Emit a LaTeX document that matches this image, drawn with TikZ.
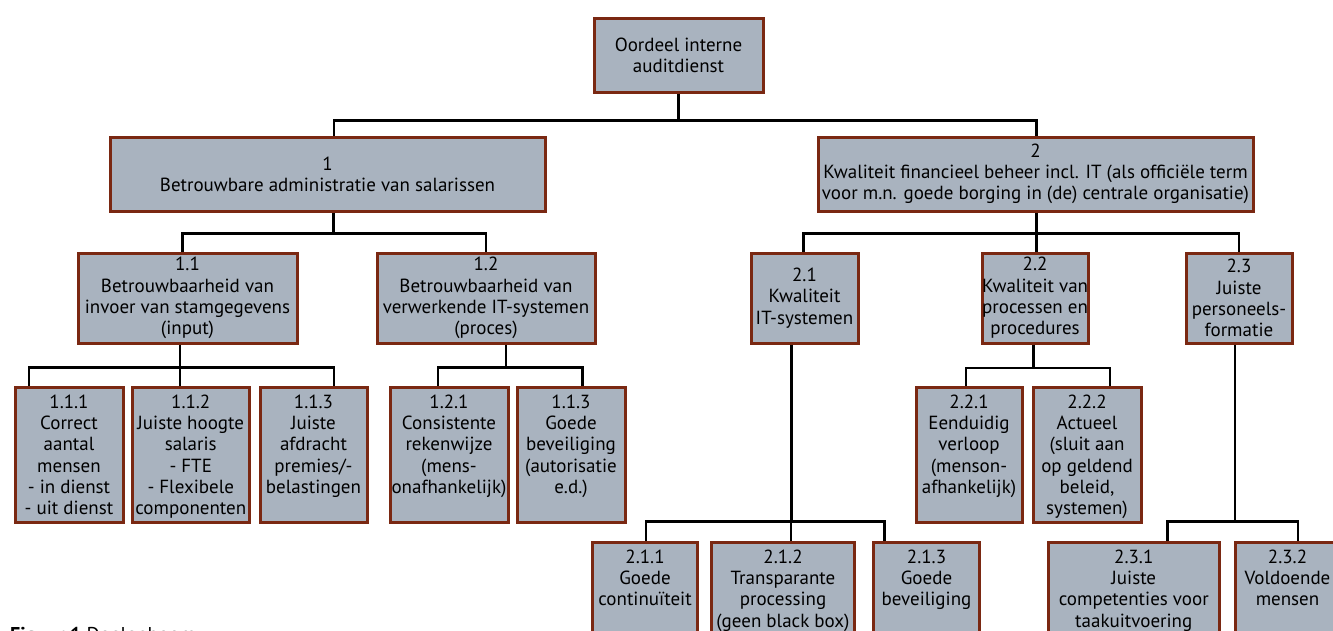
\documentclass[tikz,border=0pt]{standalone}
\usepackage{fontspec}
\setmainfont{PT Sans}
\definecolor{boxfill}{RGB}{169,179,191}
\definecolor{boxline}{RGB}{122,40,18}
\tikzset{
  box/.style={draw=boxline, fill=boxfill, line width=3pt, anchor=north west,
    inner sep=0pt, align=center, font=\fontsize{19}{21.3}\selectfont},
  lvlA/.style={box, minimum height=74pt},
  lvlB/.style={box, minimum height=90pt},
  lvlC/.style={box, minimum height=135pt},
  lvlD/.style={box, minimum height=120pt},
  toptext/.style={anchor=north, inner sep=0pt, align=center, yshift=-9pt,
    font=\fontsize{19}{21.3}\selectfont},
  conn/.style={draw=black, line width=2.5pt},
}
\begin{document}
\begin{tikzpicture}[x=1pt, y=-1pt]
\useasboundingbox (0,0) rectangle (1333,630);
\clip (0,0) rectangle (1333,630);

% level 0 and 1
\node[lvlA, minimum width=169pt] (top) at (592.5,16.5) {Oordeel interne\\auditdienst};
\node[lvlA, minimum width=435pt] (b1) at (108.5,135.5) {1\\Betrouwbare administratie van salarissen};
\node[lvlA, minimum width=435pt] (b2) at (816.5,135.5) {2\\Kwaliteit financieel beheer incl. IT (als officiële term\\voor m.n. goede borging in (de) centrale organisatie)};

% level 2
\node[lvlB, minimum width=219pt] (b11) at (76.5,251.5) {1.1\\Betrouwbaarheid van\\invoer van stamgegevens\\(input)};
\node[lvlB, minimum width=218pt] (b12) at (375.5,251.5) {1.2\\Betrouwbaarheid van\\verwerkende IT-systemen\\(proces)};
\node[lvlB, minimum width=107pt] (b21) at (749.5,251.5) {2.1\\Kwaliteit\\IT-systemen};
\node[lvlB, minimum width=106pt] (b22) at (980.5,251.5) {2.2\\Kwaliteit van\\processen en\\procedures};
\node[lvlB, minimum width=106pt] (b23) at (1184.5,251.5) {2.3\\Juiste\\personeels-\\formatie};

% level 3
\node[lvlC, minimum width=108pt] (b111) at (13.5,385.5) {};
\node[toptext] (t111) at (b111.north) {1.1.1\\Correct\\aantal\\mensen\\- in dienst\\- uit dienst};
\node[lvlC, minimum width=116.5pt] (b112) at (131,385.5) {};
\node[toptext] (t112) at (b112.north) {1.1.2\\Juiste hoogte\\salaris\\- FTE\\- Flexibele\\componenten};
\node[lvlC, minimum width=107pt] (b113) at (258.5,385.5) {};
\node[toptext] (t113) at (b113.north) {1.1.3\\Juiste\\afdracht\\premies/-\\belastingen};
\node[lvlC, minimum width=118pt] (b121) at (388.5,385.5) {};
\node[toptext] (t121) at (b121.north) {1.2.1\\Consistente\\rekenwijze\\(mens-\\onafhankelijk)};
\node[lvlC, minimum width=108pt] (b122) at (515.5,385.5) {};
\node[toptext] (t122) at (b122.north) {1.1.3\\Goede\\beveiliging\\(autorisatie\\e.d.)};
\node[lvlC, minimum width=106pt] (b221) at (914.5,385.5) {};
\node[toptext] (t221) at (b221.north) {2.2.1\\Eenduidig\\verloop\\(menson-\\afhankelijk)};
\node[lvlC, minimum width=108pt] (b222) at (1031.5,385.5) {};
\node[toptext] (t222) at (b222.north) {2.2.2\\Actueel\\(sluit aan\\op geldend\\beleid,\\systemen)};

% level 4
\node[lvlD, minimum width=105pt] (b211) at (591,540.5) {};
\node[toptext] (t211) at (b211.north) {2.1.1\\Goede\\continuïteit};
\node[lvlD, minimum width=143pt] (b212) at (710,540.5) {};
\node[toptext] (t212) at (b212.north) {2.1.2\\Transparante\\processing\\(geen black box)};
\node[lvlD, minimum width=106pt] (b213) at (872,540.5) {};
\node[toptext] (t213) at (b213.north) {2.1.3\\Goede\\beveiliging};
\node[lvlD, minimum width=171.5pt] (b231) at (1046.5,540.5) {};
\node[toptext] (t231) at (b231.north) {2.3.1\\Juiste\\competenties voor\\taakuitvoering};
\node[lvlD, minimum width=105pt] (b232) at (1233.5,540.5) {};
\node[toptext] (t232) at (b232.north) {2.3.2\\Voldoende\\mensen};

% caption
\node[anchor=base west, inner sep=0pt, font=\fontsize{20}{24}\selectfont] (cap) at (10,641) {\textbf{Figuur 1} Doelenboom};

% connectors
\draw[conn] (top.south) -- ++(0,27) coordinate (j0);
\draw[conn] (j0) -| ([xshift=6.6pt]b1.north);
\draw[conn] (j0) -| ([xshift=1pt]b2.north);

\draw[conn] ([xshift=6pt]b1.south) -- ++(0,21) coordinate (j1);
\draw[conn] (j1) -| ([xshift=-5pt]b11.north);
\draw[conn] (j1) -| (b12.north);

\draw[conn] ([xshift=1pt]b2.south) -- ++(0,21) coordinate (j2);
\draw[conn] (j2) -| ([xshift=-1pt]b21.north);
\draw[conn] (j2) -| ([xshift=1.5pt]b22.north);
\draw[conn] (j2) -| (b23.north);

\draw[conn] ([xshift=-7.4pt]b11.south) -- ++(0,23) coordinate (j11);
\draw[conn] (j11) -| ([xshift=-40pt]b111.north);
\draw[conn] (j11) -| ([xshift=-10.6pt]b112.north);
\draw[conn] (j11) -| ([xshift=20.6pt]b113.north);

\draw[conn] ([xshift=20pt]b12.south) -- ++(0,23) coordinate (j12);
\draw[conn] (j12) -| ([xshift=-11pt]b121.north);
\draw[conn] (j12) -| ([xshift=11.5pt]b122.north);

\draw[conn] ([xshift=-13pt]b21.south) -- ++(0,177) coordinate (j21);
\draw[conn] (j21) -| ([xshift=1pt]b211.north);
\draw[conn] (j21) -| ([xshift=8pt]b212.north);
\draw[conn] (j21) -| ([xshift=-42pt]b213.north);

\draw[conn] ([xshift=-1.5pt]b22.south) -- ++(0,23.5) coordinate (j22);
\draw[conn] (j22) -| ([xshift=-3pt]b221.north);
\draw[conn] (j22) -| ([xshift=23pt]b222.north);

\draw[conn] ([xshift=-4pt]b23.south) -- ++(0,177) coordinate (j23);
\draw[conn] (j23) -| ([xshift=33.5pt]b231.north);
\draw[conn] (j23) -| ([xshift=10.6pt]b232.north);
\end{tikzpicture}
\end{document}
